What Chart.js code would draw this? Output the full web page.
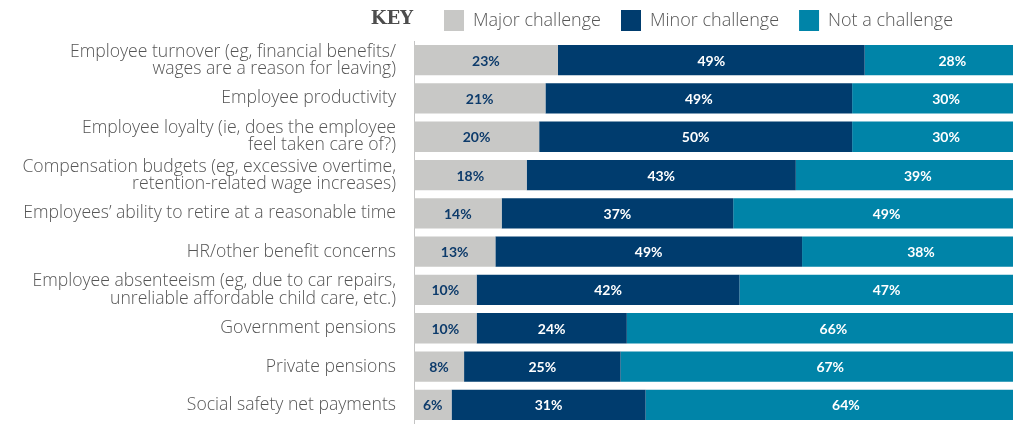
<!DOCTYPE html>
<html>
<head>
<meta charset="utf-8">
<script src="https://cdn.jsdelivr.net/npm/chart.js@4.4.0/dist/chart.umd.min.js"></script>
<style>
  html, body { margin: 0; padding: 0; background: #fff; }
  #wrap { width: 1013px; height: 424px; }
</style>
</head>
<body>
<div id="wrap"><canvas id="myChart"></canvas></div>
<script>
var categories = [
  ["Employee turnover (eg, financial benefits/", "wages are a reason for leaving)"],
  "Employee productivity",
  ["Employee loyalty (ie, does the employee", "feel taken care of?)"],
  ["Compensation budgets (eg, excessive overtime,", "retention-related wage increases)"],
  "Employees\u2019 ability to retire at a reasonable time",
  "HR/other benefit concerns",
  ["Employee absenteeism (eg, due to car repairs,", "unreliable affordable child care, etc.)"],
  "Government pensions",
  "Private pensions",
  "Social safety net payments"
];
var majorChallenge = [23, 21, 20, 18, 14, 13, 10, 10, 8, 6];
var minorChallenge = [49, 49, 50, 43, 37, 49, 42, 24, 25, 31];
var notChallenge   = [28, 30, 30, 39, 49, 38, 47, 66, 67, 64];

var ctx = document.getElementById('myChart').getContext('2d');

// percent labels in the middle of each segment
var segmentLabels = {
  id: 'segmentLabels',
  afterDatasetsDraw: function(chart) {
    var c = chart.ctx;
    c.save();
    c.font = 'bold 14px Lato';
    c.textAlign = 'center';
    c.textBaseline = 'middle';
    chart.data.datasets.forEach(function(ds, i) {
      var meta = chart.getDatasetMeta(i);
      meta.data.forEach(function(bar, j) {
        var p = bar.getProps(['x', 'y', 'base'], true);
        c.fillStyle = i === 0 ? '#0d3b6b' : '#ffffff';
        c.fillText(ds.data[j] + '%', (p.x + p.base) / 2, p.y + 1);
      });
    });
    c.restore();
  }
};

// "KEY" word in front of the legend, and legend moved to the right
var keyLegend = {
  id: 'keyLegend',
  afterLayout: function(chart) {
    chart.legend.left = 424;
  },
  afterDraw: function(chart) {
    var c = chart.ctx;
    c.save();
    c.font = 'bold 18px "DejaVu Serif"';
    c.fillStyle = '#4d4d4d';
    c.textAlign = 'right';
    c.textBaseline = 'middle';
    c.fillText('KEY', 413, 19);
    c.restore();
  }
};

var chart = new Chart(ctx, {
  type: 'bar',
  data: {
    labels: categories,
    datasets: [
      { label: 'Major challenge', data: majorChallenge, backgroundColor: '#c8c8c6' },
      { label: 'Minor challenge', data: minorChallenge, backgroundColor: '#003c6e' },
      { label: 'Not a challenge', data: notChallenge, backgroundColor: '#0084a8' }
    ]
  },
  options: {
    indexAxis: 'y',
    responsive: true,
    maintainAspectRatio: false,
    animation: false,
    layout: { padding: { top: -10, right: 0, bottom: 0, left: 0 } },
    datasets: {
      bar: { barPercentage: 0.79, categoryPercentage: 1, borderWidth: 0 }
    },
    scales: {
      x: {
        stacked: true,
        display: false,
        min: 0,
        max: 95.7
      },
      y: {
        stacked: true,
        grid: { display: false, drawTicks: false },
        border: { display: true, color: '#c4c4c4', width: 1 },
        ticks: {
          autoSkip: false,
          padding: 18,
          color: '#555555',
          font: { family: '"Open Sans"', size: 17.6, weight: 300, lineHeight: 0.97 }
        },
        afterFit: function(scale) {
          scale.width = 414;
          scale.paddingTop = 0;
          scale.paddingBottom = 0;
        }
      }
    },
    plugins: {
      legend: {
        position: 'top',
        align: 'start',
        labels: {
          boxWidth: 20,
          boxHeight: 21,
          padding: 20,
          color: '#555555',
          font: { family: '"Open Sans"', size: 18, weight: 300 }
        }
      },
      tooltip: { enabled: false }
    }
  },
  plugins: [segmentLabels, keyLegend]
});
</script>
</body>
</html>
